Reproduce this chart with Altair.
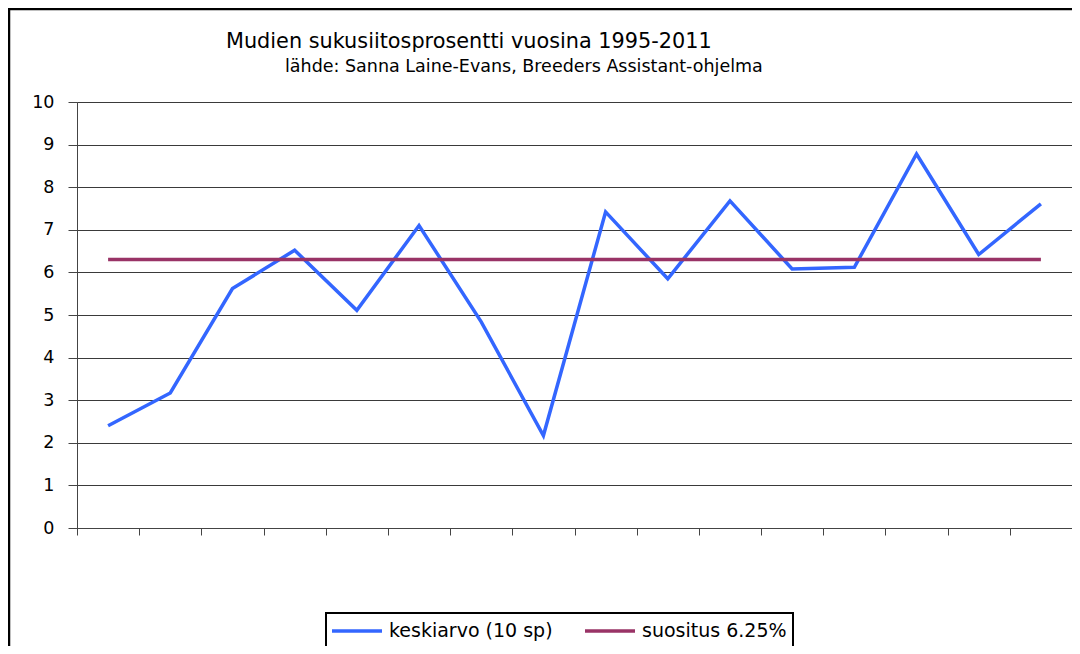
import altair as alt
import pandas as pd

# ---- data ----
years = [1996, 1997, 1998, 1999, 2000, 2001, 2002, 2003,
         2004, 2005, 2006, 2007, 2008, 2009, 2010, 2011]
keskiarvo = [2.40, 3.17, 5.62, 6.52, 5.11, 7.10, 4.84, 2.17,
             7.42, 5.85, 7.68, 6.08, 6.12, 8.78, 6.42, 7.61]
suositus = [6.30, 6.30, 6.30, 6.30, 6.30, 6.30, 6.30, 6.30,
            6.30, 6.30, 6.30, 6.30, 6.30, 6.30, 6.30, 6.30]
series_names = ["keskiarvo (10 sp)", "suositus 6.25%"]
series_colors = ["#3366ff", "#993366"]
y_ticks = [0, 1, 2, 3, 4, 5, 6, 7, 8, 9, 10]
x_ticks = [1995.5, 1996.5, 1997.5, 1998.5, 1999.5, 2000.5, 2001.5, 2002.5, 2003.5,
           2004.5, 2005.5, 2006.5, 2007.5, 2008.5, 2009.5, 2010.5, 2011.5]
title_text = "Mudien sukusiitosprosentti vuosina 1995-2011"
subtitle_text = "lähde: Sanna Laine-Evans, Breeders Assistant-ohjelma"

df = pd.DataFrame({
    "vuosi": years + years,
    "arvo": keskiarvo + suositus,
    "sarja": [series_names[0]] * len(years) + [series_names[1]] * len(years),
})

FONT = "DejaVu Sans"

x_scale = alt.Scale(domain=[x_ticks[0], x_ticks[-1]], nice=False, zero=False)
y_scale = alt.Scale(domain=[0, 10], nice=False)

frame = alt.Chart(pd.DataFrame({"a": [0]})).mark_rect(
    fillOpacity=0, stroke="black", strokeWidth=2.5
).encode(
    x=alt.value(-68), x2=alt.value(1040), y=alt.value(-93), y2=alt.value(620)
)

lines = alt.Chart(df).mark_line(strokeWidth=3.5).encode(
    x=alt.X("vuosi:Q", scale=x_scale,
            axis=alt.Axis(values=x_ticks, labels=False, title=None, grid=False,
                          tickSize=7, tickColor="#444", domainColor="#444")),
    y=alt.Y("arvo:Q", scale=y_scale,
            axis=alt.Axis(values=y_ticks, title=None, grid=True, gridColor="#3a3a3a",
                          gridWidth=1, tickSize=9, tickColor="#444", domainColor="#444",
                          labelPadding=14, labelFont=FONT, labelFontSize=17.5,
                          labelColor="black")),
    color=alt.Color("sarja:N",
                    scale=alt.Scale(domain=series_names, range=series_colors),
                    legend=alt.Legend(
                        title=None, orient="none", legendX=249, legendY=511,
                        direction="horizontal", columns=2, gridAlign="all",
                        symbolType="M-2.5,0H2.5",
                        symbolSize=400, symbolStrokeWidth=3.5, symbolOffset=13,
                        labelFont=FONT, labelFontSize=19, labelColor="black",
                        labelOffset=20, labelLimit=400, columnPadding=25,
                        padding=6, strokeColor="black")),
)

title_layer = alt.Chart(pd.DataFrame({"t": [title_text]})).mark_text(
    align="left", baseline="alphabetic", font=FONT, fontSize=20.8, color="black"
).encode(x=alt.value(149), y=alt.value(-54), text="t:N")

subtitle_layer = alt.Chart(pd.DataFrame({"t": [subtitle_text]})).mark_text(
    align="left", baseline="alphabetic", font=FONT, fontSize=17.5, color="black"
).encode(x=alt.value(208), y=alt.value(-30), text="t:N")

chart = alt.layer(frame, lines, title_layer, subtitle_layer).properties(
    width=995, height=426,
    autosize="none",
    padding={"left": 69, "top": 94, "right": 0, "bottom": 118},
    background="white",
).configure_view(stroke="#999", strokeWidth=1).configure_legend(strokeWidth=2)

chart.save("out.html", embed_options={"renderer": "svg", "actions": False})
